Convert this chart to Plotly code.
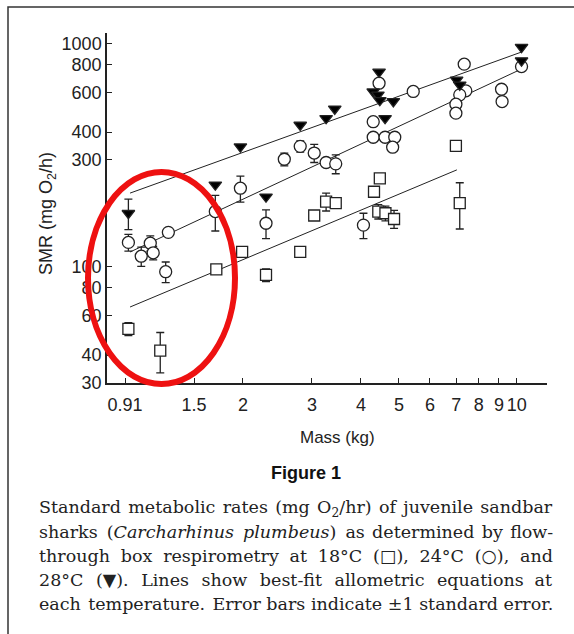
import plotly.graph_objects as go

# ---- data (mass kg, SMR mg O2/h, SE) ----
sq_mass = [1.02, 1.23, 1.71, 1.99, 2.29, 2.80, 3.04, 3.26, 3.45, 4.32, 4.47, 4.43, 4.62, 4.86, 7.15, 6.99]
sq_smr  = [52.4, 41.9, 97, 116, 91.5, 116, 169, 195, 192, 216, 248, 176, 173, 163, 192, 347]
sq_se   = [3.5, 8.6, 0, 0, 6, 4, 0, 18, 10, 0, 0, 13, 13, 15, 45, 0]

ci_mass = [1.02, 1.10, 1.16, 1.18, 1.27, 1.29, 1.70, 1.97, 2.29, 2.55, 2.80, 3.04, 3.26, 3.45, 4.06,
           4.45, 5.44, 4.30, 4.30, 4.61, 4.88, 4.82, 7.34, 7.41, 7.15, 6.99, 6.99, 9.14, 9.17, 10.28]
ci_smr  = [128, 111, 127, 115, 94.6, 142, 176, 224, 156, 302, 345, 322, 292, 288, 153,
           662, 608, 445, 379, 379, 379, 342, 806, 612, 587, 533, 486, 622, 548, 786]
ci_se   = [11, 11, 10, 8, 10, 0, 32, 30, 23, 20, 20, 30, 0, 28, 20,
           0, 0, 0, 0, 0, 0, 0, 0, 0, 0, 0, 0, 0, 0, 0]

tr_mass = [1.02, 1.70, 1.97, 2.29, 2.80, 3.26, 3.43, 4.45, 4.30, 4.42, 4.47, 4.84, 4.61, 7.02, 7.15, 10.28, 10.28]
tr_smr  = [173, 232, 344, 205, 430, 461, 508, 744, 607, 587, 555, 549, 461, 685, 651, 960, 836]
tr_se   = [27, 0, 0, 0, 0, 0, 0, 0, 0, 0, 0, 0, 0, 0, 0, 0, 0]

# best-fit allometric equations SMR = a * M^b, drawn over the mass span
fit_names = ["18°C", "24°C", "28°C"]
fit_a     = [64.3, 113.2, 209.0]
fit_b     = [0.737, 0.821, 0.633]
fit_start = [1.03, 1.03, 1.03]
fit_end   = [7.03, 10.18, 10.28]

x_tickvals = [1, 1.5, 2, 3, 4, 5, 6, 7, 8, 9, 10]
x_ticktext = ["0.91", "1.5", "2", "3", "4", "5", "6", "7", "8", "9", "10"]
y_tickvals = [30, 40, 60, 80, 100, 300, 400, 600, 800, 1000]

caption = [
    "Standard metabolic rates (mg O<sub>2</sub>/hr) of juvenile sandbar",
    "sharks (<i>Carcharhinus plumbeus</i>) as determined by flow-",
    "through box respirometry at 18°C (□), 24°C (○), and",
    "28°C (▼). Lines show best-fit allometric equations at",
    "each temperature. Error bars indicate ±1 standard error.",
]

# ---- figure ----
W, H = 574, 634
L, R, T, B = 107, 27, 33, 251
pw, ph = W - L - R, H - T - B

def px_x(x):
    return (x - L) / pw

def px_y(y):
    return (H - B - y) / ph

ink = "#222222"
sans = "Liberation Sans, Arial, sans-serif"
fig = go.Figure()

for a, b, s, e in zip(fit_a, fit_b, fit_start, fit_end):
    xs = [s, e]
    fig.add_trace(go.Scatter(x=xs, y=[a * v ** b for v in xs], mode="lines",
                             line=dict(color=ink, width=1), hoverinfo="skip"))

def series(x, y, se, symbol, fill, size):
    fig.add_trace(go.Scatter(
        x=x, y=y, mode="markers",
        marker=dict(symbol=symbol, size=size, color=fill, line=dict(color=ink, width=1.3)),
        error_y=dict(type="data", array=se, visible=True, color=ink, thickness=1.3, width=4),
    ))

series(sq_mass, sq_smr, sq_se, "square", "white", 11)
series(ci_mass, ci_smr, ci_se, "circle", "white", 12)
series(tr_mass, tr_smr, tr_se, "triangle-down", "black", 11)

axis_font = dict(family=sans, size=18, color=ink)
fig.update_xaxes(type="log", range=[-0.046, 1.077], tickvals=x_tickvals, ticktext=x_ticktext,
                 ticks="inside", ticklen=5, tickwidth=1.3, tickcolor=ink, ticklabelstandoff=5,
                 showline=True, linecolor=ink, linewidth=1.5, showgrid=False, zeroline=False,
                 tickfont=axis_font)
fig.update_yaxes(type="log", range=[1.477, 3.046], tickvals=y_tickvals,
                 ticktext=[str(v) for v in y_tickvals],
                 ticks="inside", ticklen=5, tickwidth=1.3, tickcolor=ink,
                 showline=True, linecolor=ink, linewidth=1.5, showgrid=False, zeroline=False,
                 tickfont=axis_font)

annotations = [
    dict(text="Mass (kg)", x=px_x(337), y=px_y(438), xref="paper", yref="paper",
         xanchor="center", yanchor="middle", showarrow=False,
         font=dict(family=sans, size=17, color=ink)),
    dict(text="SMR (mg O<sub>2</sub>/h)", x=px_x(47), y=px_y(214), xref="paper", yref="paper",
         xanchor="center", yanchor="middle", textangle=-90, showarrow=False,
         font=dict(family=sans, size=18, color=ink)),
    dict(text="<b>Figure 1</b>", x=px_x(306), y=px_y(473), xref="paper", yref="paper",
         xanchor="center", yanchor="middle", showarrow=False,
         font=dict(family=sans, size=18, color="#111")),
]

# justified caption: extra pixels per line spread over word gaps with hair spaces
cap_size = 17.5
cap_extra_px = [12, 15, 42, 47, 3]
hair = "\u200a"
hair_w = 0.1 * cap_size
for i, (line, extra) in enumerate(zip(caption, cap_extra_px)):
    words = line.split(" ")
    gaps = len(words) - 1
    n_hair = int(round(extra / hair_w))
    out = words[0]
    for g in range(gaps):
        k = n_hair // gaps + (1 if g < n_hair % gaps else 0)
        out += " " + hair * k + words[g + 1]
    annotations.append(dict(text=out, x=px_x(37), y=px_y(508 + 24 * i), xref="paper", yref="paper",
                            xanchor="left", yanchor="middle", showarrow=False,
                            font=dict(family="DejaVu Serif, serif", size=cap_size, color="#222")))

shapes = [
    dict(type="rect", xref="paper", yref="paper", x0=px_x(8), x1=px_x(600), y0=px_y(660), y1=px_y(7),
         line=dict(color="#333", width=1.5), layer="above"),
    dict(type="circle", xref="paper", yref="paper", x0=px_x(88), x1=px_x(235), y0=px_y(384), y1=px_y(172),
         line=dict(color="#ee1111", width=6), layer="above"),
]

fig.update_layout(width=W, height=H, margin=dict(l=L, r=R, t=T, b=B),
                  paper_bgcolor="white", plot_bgcolor="white", showlegend=False,
                  annotations=annotations, shapes=shapes)

fig.write_html("out.html")
